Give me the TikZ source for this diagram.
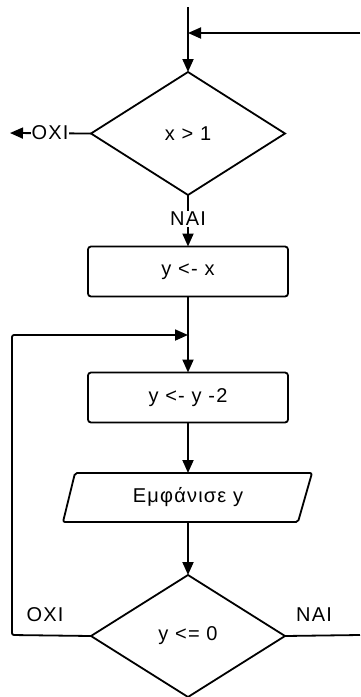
\documentclass[tikz,border=0pt]{standalone}
\usepackage{fontspec}
\setmainfont{Liberation Sans}[LetterSpace=6]
\usetikzlibrary{shapes.geometric,arrows.meta}
\begin{document}
\begin{tikzpicture}[x=1pt,y=-1pt,line width=1.8pt,
  every node/.style={font=\fontsize{20}{22}\selectfont},
  dec/.style={diamond,draw,minimum width=194pt,minimum height=123pt,inner sep=0pt,outer sep=0pt},
  box/.style={rectangle,draw,rounded corners=3pt,minimum width=200pt,minimum height=50pt,inner sep=0pt,outer sep=0pt},
  io/.style={rectangle,minimum width=235pt,minimum height=49pt,inner sep=0pt,outer sep=0pt},
  lbl/.style={fill=white,inner sep=1pt},
  plain/.style={inner sep=0pt},
  arr/.style={-{Triangle[length=13pt,width=11pt]}}]
\useasboundingbox (0,0) rectangle (360,697);
% nodes
\node[dec] (d1) at (188,133.5) {x > 1};
\node[box] (b1) at (188,271.5) {y <- x};
\node[box] (b2) at (188,397.5) {y <- y -2};
\node[io] (p) at (188,497.5) {Εμφάνισε y};
\draw[rounded corners=2pt] ([shift={(-113,-24.5)}]p.center) -- ([shift={(124,-24.5)}]p.center)
  -- ([shift={(110,24.5)}]p.center) -- ([shift={(-125,24.5)}]p.center) -- cycle;
\node[dec,minimum height=122pt] (d2) at (188,636) {y <= 0};
% coordinates
\coordinate (top) at (188,7);
\coordinate (in) at (360,33);
\coordinate (m1) at (188,33);
\coordinate (out1) at (10,133);
\coordinate (m2) at (188,335);
\coordinate (c1) at (12,635);
\coordinate (c2) at (12,335);
\coordinate (out2) at (360,635);
% connectors
\draw[arr] (top) -- (d1.north);
\draw[arr] (in) -- (m1);
\draw[arr] (d1.west) -- (out1);
\draw[arr] (d1.south) -- (b1.north);
\draw[arr] (b1.south) -- (b2.north);
\draw[arr] (b2.south) -- (p.north);
\draw[arr] (p.south) -- (d2.north);
\draw[arr,rounded corners=2pt] (d2.west) -- (c1) -- (c2) -- (m2);
\draw (d2.east) -- (out2);
% labels
\node[lbl] (l1) at (50,133) {OXI};
\node[lbl] (l2) at (188,219) {NAI};
\node[plain] (l3) at (45,615) {OXI};
\node[plain] (l4) at (314,615) {NAI};
\end{tikzpicture}
\end{document}
